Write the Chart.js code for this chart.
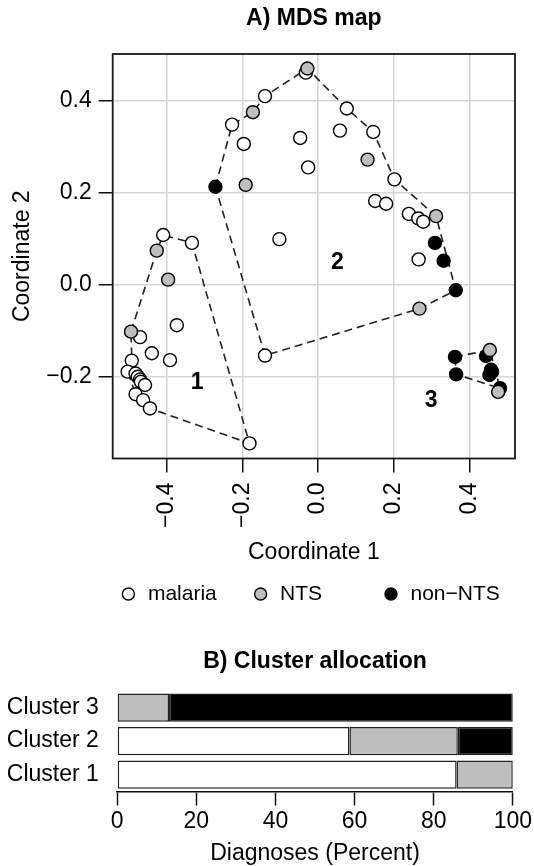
<!DOCTYPE html>
<html>
<head>
<meta charset="utf-8">
<script src="https://cdn.jsdelivr.net/npm/chart.js@4/dist/chart.umd.min.js"></script>
<style>
html,body{margin:0;padding:0;background:#fff;overflow:hidden;width:534px;height:866px;}
#wrapA{position:absolute;left:0;top:0;width:534px;height:620px;}
#wrapB{position:absolute;left:0;top:620px;width:534px;height:248px;}
canvas{display:block;}
</style>
</head>
<body>
<div id="wrapA"><canvas id="mds" width="534" height="620"></canvas></div>
<div id="wrapB"><canvas id="alloc" width="534" height="248"></canvas></div>
<script>
// ---------- A) MDS map data ----------
const malariaX = [-0.409,-0.333,-0.373,-0.470,-0.439,-0.391,-0.492,-0.503,-0.482,-0.476,-0.470,-0.468,-0.457,-0.482,-0.462,-0.444,-0.181,
                  -0.032,-0.140,-0.227,-0.196,-0.047,-0.026,-0.102,0.076,0.058,0.146,0.202,0.151,0.180,0.240,0.265,0.278,0.266,-0.140];
const malariaY = [0.108,0.091,-0.088,-0.114,-0.149,-0.164,-0.165,-0.189,-0.193,-0.200,-0.206,-0.211,-0.218,-0.238,-0.251,-0.269,-0.345,
                  0.461,0.410,0.348,0.306,0.319,0.255,0.099,0.383,0.335,0.332,0.229,0.182,0.176,0.154,0.144,0.137,0.055,-0.154];
const ntsX = [-0.426,-0.396,-0.494,-0.028,-0.172,-0.191,0.131,0.312,0.268,0.454,0.476];
const ntsY = [0.074,0.011,-0.102,0.470,0.375,0.217,0.272,0.149,-0.052,-0.142,-0.233];
const nonNtsX = [-0.271,0.309,0.332,0.364,0.362,0.444,0.457,0.460,0.453,0.365,0.481];
const nonNtsY = [0.213,0.091,0.052,-0.012,-0.157,-0.155,-0.185,-0.189,-0.196,-0.195,-0.225];

// cluster hull vertices (closed polygons)
const hull1X = [-0.494,-0.426,-0.409,-0.333,-0.181,-0.444,-0.482,-0.503,-0.492,-0.494];
const hull1Y = [-0.102,0.074,0.108,0.091,-0.345,-0.269,-0.238,-0.189,-0.165,-0.102];
const hull2X = [-0.271,-0.227,-0.172,-0.140,-0.028,0.076,0.146,0.202,0.312,0.364,0.268,-0.140,-0.271];
const hull2Y = [0.213,0.348,0.375,0.410,0.470,0.383,0.332,0.229,0.149,-0.012,-0.052,-0.154,0.213];
const hull3X = [0.362,0.454,0.481,0.365,0.362];
const hull3Y = [-0.157,-0.142,-0.225,-0.195,-0.157];

const clusterNames = ['1','2','3'];
const clusterLabelX = [-0.319,0.051,0.299];
const clusterLabelY = [-0.213,0.047,-0.251];

const xTicks = [-0.4,-0.2,0.0,0.2,0.4];
const yTicks = [-0.2,0.0,0.2,0.4];
const xRange = [-0.5424,0.5205];
const yRange = [-0.3778,0.5015];

const legendLabels = ['malaria','NTS','non\u2212NTS'];

// ---------- B) Cluster allocation data ----------
const clusterLabels = ['Cluster 3','Cluster 2','Cluster 1'];
const malariaPct = [0,58.7,85.8];
const ntsPct = [13.1,27.4,14.2];
const nonNtsPct = [86.9,13.9,0];
const pctTicks = [0,20,40,60,80,100];

// ---------- styling ----------
const FONT = "'Liberation Sans', Arial, Helvetica, sans-serif";
const COL_MAL = '#ffffff', COL_NTS = '#bebebe', COL_NON = '#000000';
const fmt = v => Number(v).toFixed(1).replace('-', '\u2212');
const zip = (xs, ys) => xs.map((x, i) => ({x: x, y: ys[i]}));

function pointSet(label, xs, ys, color, order) {
  return {label, data: zip(xs, ys), backgroundColor: color, borderColor: '#000',
    pointRadius: 6.5, pointBorderWidth: 1.4, pointBackgroundColor: color, pointBorderColor: '#000',
    showLine: false, order};
}
function hullSet(xs, ys) {
  return {label: 'hull', data: zip(xs, ys), showLine: true, pointRadius: 0, borderColor: '#222',
    borderWidth: 1.6, borderDash: [8, 5], fill: false, tension: 0, order: 10};
}

const boxPlugin = {
  id: 'plotBox',
  beforeDatasetsDraw(chart) {
    const a = chart.chartArea, ctx = chart.ctx;
    ctx.save(); ctx.strokeStyle = '#1a1a1a'; ctx.lineWidth = 1.8;
    ctx.strokeRect(a.left, a.top, a.right - a.left, a.bottom - a.top);
    ctx.restore();
  }
};
const clusterTextPlugin = {
  id: 'clusterText',
  afterDatasetsDraw(chart) {
    const ctx = chart.ctx, sx = chart.scales.x, sy = chart.scales.y;
    ctx.save(); ctx.fillStyle = '#000'; ctx.font = 'bold 23px ' + FONT;
    ctx.textAlign = 'center'; ctx.textBaseline = 'middle';
    clusterNames.forEach((t, i) => ctx.fillText(t, sx.getPixelForValue(clusterLabelX[i]), sy.getPixelForValue(clusterLabelY[i])));
    ctx.restore();
  }
};
const legendPlugin = {
  id: 'bottomLegend',
  afterDraw(chart) {
    const ctx = chart.ctx;
    const cx = [128.4, 260.6, 391], cy = 594;
    const cols = [COL_MAL, COL_NTS, COL_NON];
    ctx.save();
    ctx.font = '21px ' + FONT; ctx.textBaseline = 'middle'; ctx.textAlign = 'left';
    legendLabels.forEach((t, i) => {
      ctx.beginPath(); ctx.arc(cx[i], cy, 6, 0, Math.PI * 2);
      ctx.fillStyle = cols[i]; ctx.fill(); ctx.lineWidth = 1.4; ctx.strokeStyle = '#000'; ctx.stroke();
      ctx.fillStyle = '#000'; ctx.fillText(t, cx[i] + 19.5, cy);
    });
    ctx.restore();
  }
};

const axisFont = {family: FONT, size: 23};

new Chart(document.getElementById('mds'), {
  type: 'scatter',
  data: {datasets: [
    pointSet('NTS', ntsX, ntsY, COL_NTS, 1),
    pointSet('non\u2212NTS', nonNtsX, nonNtsY, COL_NON, 2),
    pointSet('malaria', malariaX, malariaY, COL_MAL, 3),
    hullSet(hull1X, hull1Y), hullSet(hull2X, hull2Y), hullSet(hull3X, hull3Y)
  ]},
  options: {
    responsive: false, animation: false, events: [],
    layout: {padding: {left: 0, right: 19, top: 0, bottom: 0}},
    plugins: {
      legend: {display: false}, tooltip: {enabled: false},
      title: {display: true, text: 'A) MDS map', fullSize: false, color: '#000',
        font: {family: FONT, size: 23, weight: 'bold'}, padding: {top: 5, bottom: 21.4}}
    },
    scales: {
      x: {type: 'linear', position: 'bottom', min: xRange[0], max: xRange[1],
        afterBuildTicks: s => { s.ticks = xTicks.map(v => ({value: v})); },
        afterFit: s => { s.height = 161.5; },
        grid: {color: '#d6d6d6', lineWidth: 1.5, tickColor: '#111', tickWidth: 1.5, tickLength: 14},
        border: {display: false},
        ticks: {autoSkip: false, minRotation: 90, maxRotation: 90, padding: 10, color: '#000', font: axisFont, callback: fmt},
        title: {display: true, text: 'Coordinate 1', color: '#000', font: axisFont, padding: {top: 0, bottom: 53.2}}
      },
      y: {type: 'linear', position: 'left', min: yRange[0], max: yRange[1],
        afterBuildTicks: s => { s.ticks = yTicks.map(v => ({value: v})); },
        afterFit: s => { s.width = 112.7; },
        grid: {color: '#d6d6d6', lineWidth: 1.5, tickColor: '#111', tickWidth: 1.5, tickLength: 14},
        border: {display: false},
        ticks: {autoSkip: false, padding: 7, color: '#000', font: axisFont, callback: fmt},
        title: {display: true, text: 'Coordinate 2', color: '#000', font: axisFont, padding: {top: 9.2, bottom: 0}}
      }
    }
  },
  plugins: [boxPlugin, clusterTextPlugin, legendPlugin]
});

new Chart(document.getElementById('alloc'), {
  type: 'bar',
  data: {labels: clusterLabels, datasets: [
    {label: 'malaria', data: malariaPct, backgroundColor: COL_MAL},
    {label: 'NTS', data: ntsPct, backgroundColor: COL_NTS},
    {label: 'non\u2212NTS', data: nonNtsPct, backgroundColor: COL_NON}
  ]},
  options: {
    indexAxis: 'y', responsive: false, animation: false, events: [],
    layout: {padding: {left: 0, right: 18.7, top: 0, bottom: 0}},
    datasets: {bar: {borderColor: '#222', borderWidth: 1.5, borderSkipped: false, categoryPercentage: 1, barPercentage: 0.842}},
    plugins: {
      legend: {display: false}, tooltip: {enabled: false},
      title: {display: true, text: 'B) Cluster allocation', fullSize: false, color: '#000',
        font: {family: FONT, size: 23, weight: 'bold'}, padding: {top: 28.2, bottom: 15}}
    },
    scales: {
      x: {stacked: true, min: 0, max: 100,
        afterBuildTicks: s => { s.ticks = pctTicks.map(v => ({value: v})); },
        afterFit: s => { s.height = 76.5; },
        grid: {display: true, drawOnChartArea: false, tickLength: 14, tickColor: '#111', tickWidth: 1.5},
        border: {display: true, color: '#111', width: 1.5},
        ticks: {autoSkip: false, maxRotation: 0, padding: 2, color: '#000', font: axisFont},
        title: {display: true, text: 'Diagnoses (Percent)', color: '#000', font: axisFont, padding: {top: 0, bottom: 0.4}}
      },
      y: {stacked: true,
        afterFit: s => { s.width = 117.2; },
        grid: {display: false, drawTicks: false},
        border: {display: false},
        ticks: {padding: 18.4, color: '#000', font: axisFont}
      }
    }
  }
});
</script>
</body>
</html>
